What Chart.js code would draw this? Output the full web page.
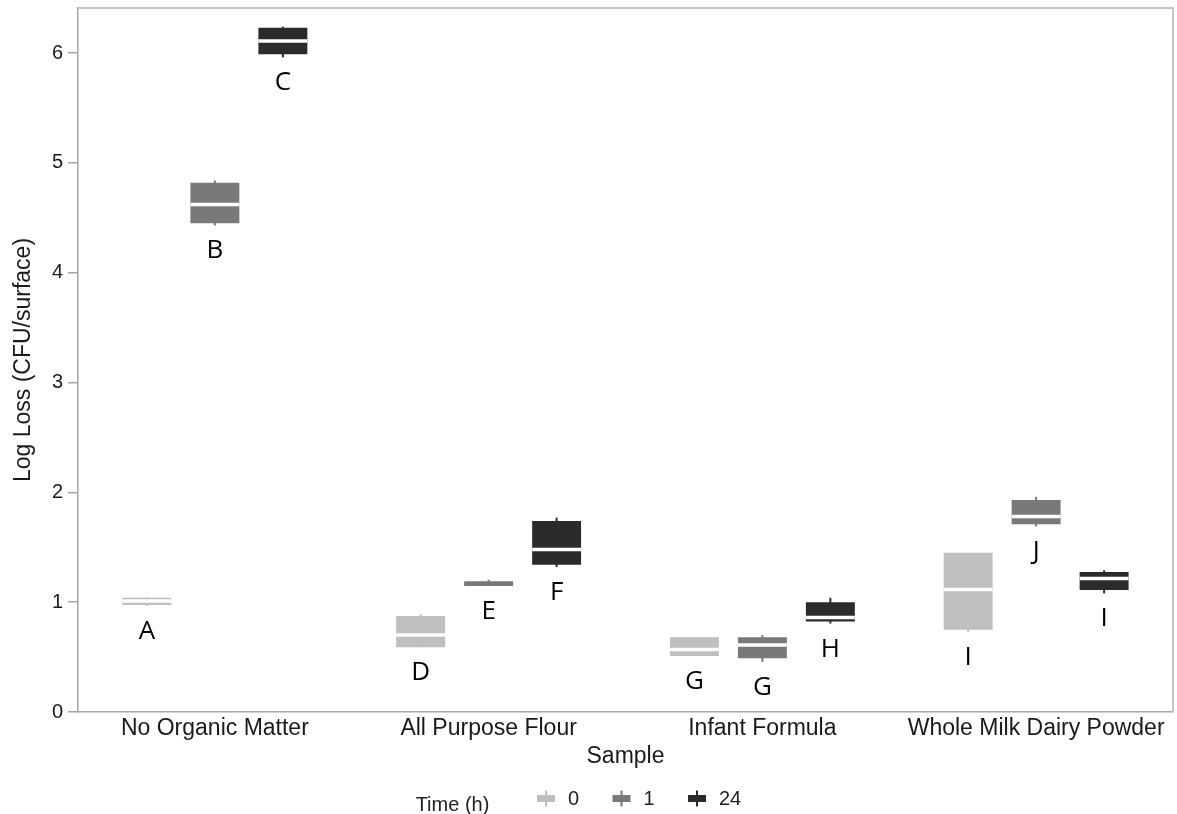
<!DOCTYPE html>
<html>
<head>
<meta charset="utf-8">
<title>Log Loss by Sample and Time</title>
<script src="https://cdn.jsdelivr.net/npm/chart.js@4.4.1/dist/chart.umd.min.js"></script>
<style>
  html, body { margin: 0; padding: 0; background: #ffffff; }
  #wrap { width: 1177px; height: 814px; position: relative; }
</style>
</head>
<body>
<div id="wrap"><canvas id="chart" width="1177" height="814"></canvas></div>
<script>
// Samples along the x axis
const categories = ['No Organic Matter', 'All Purpose Flour', 'Infant Formula', 'Whole Milk Dairy Powder'];
const timeLabels = ['0', '1', '24'];
const yTicks = [0, 1, 2, 3, 4, 5, 6];

// Box statistics per time point: whisker low, Q1, median, Q3, whisker high (log CFU/surface)
const low0  = [0.965, 0.59, 0.51, 0.73];
const q1_0  = [0.975, 0.59, 0.51, 0.75];
const med0  = [1.01, 0.70, 0.57, 1.115];
const q3_0  = [1.04, 0.874, 0.68, 1.45];
const high0 = [1.045, 0.89, 0.68, 1.45];
const letters0 = ['A', 'D', 'G', 'I'];

const low1  = [4.43, 1.15, 0.455, 1.69];
const q1_1  = [4.45, 1.147, 0.49, 1.71];
const med1  = [4.62, null, 0.61, 1.78];
const q3_1  = [4.82, 1.19, 0.68, 1.93];
const high1 = [4.84, 1.205, 0.70, 1.96];
const letters1 = ['B', 'E', 'G', 'J'];

const low24  = [5.96, 1.32, 0.805, 1.08];
const q1_24  = [5.99, 1.34, 0.824, 1.11];
const med24  = [6.11, 1.48, 0.86, 1.215];
const q3_24  = [6.23, 1.74, 1.00, 1.275];
const high24 = [6.24, 1.77, 1.04, 1.29];
const letters24 = ['C', 'F', 'H', 'I'];

const seriesColors = ['#bfbfbf', '#797979', '#2b2b2b'];

const stats = [
  { low: low0,  q1: q1_0,  med: med0,  q3: q3_0,  high: high0,  letters: letters0 },
  { low: low1,  q1: q1_1,  med: med1,  q3: q3_1,  high: high1,  letters: letters1 },
  { low: low24, q1: q1_24, med: med24, q3: q3_24, high: high24, letters: letters24 }
];

const datasets = stats.map((s, d) => ({
  label: timeLabels[d],
  data: s.q1.map((v, i) => [v, s.q3[i]]),
  backgroundColor: seriesColors[d],
  borderWidth: 0,
  borderSkipped: false,
  categoryPercentage: 0.745,
  barPercentage: 0.72
}));

const sansFamily = '"Liberation Sans", Arial, sans-serif';

// Whiskers behind the boxes, medians, group letters and the legend on top
const boxPlotParts = {
  id: 'boxPlotParts',
  beforeDatasetsDraw(chart) {
    const y = chart.scales.y;
    const ctx = chart.ctx;
    ctx.save();
    stats.forEach((s, d) => {
      const meta = chart.getDatasetMeta(d);
      meta.data.forEach((bar, i) => {
        ctx.strokeStyle = seriesColors[d];
        ctx.lineWidth = 2;
        ctx.beginPath();
        ctx.moveTo(bar.x, y.getPixelForValue(s.low[i]));
        ctx.lineTo(bar.x, y.getPixelForValue(s.high[i]));
        ctx.stroke();
      });
    });
    ctx.restore();
  },
  afterDatasetsDraw(chart) {
    const y = chart.scales.y;
    const ctx = chart.ctx;
    ctx.save();
    stats.forEach((s, d) => {
      const meta = chart.getDatasetMeta(d);
      meta.data.forEach((bar, i) => {
        const half = bar.width / 2;
        if (s.med[i] !== null) {
          const py = y.getPixelForValue(s.med[i]);
          ctx.strokeStyle = '#ffffff';
          ctx.lineWidth = 3.5;
          ctx.beginPath();
          ctx.moveTo(bar.x - half, py);
          ctx.lineTo(bar.x + half, py);
          ctx.stroke();
        }
        ctx.fillStyle = '#000000';
        ctx.font = '26px "Open Sans"';
        ctx.textAlign = 'center';
        ctx.textBaseline = 'alphabetic';
        ctx.fillText(s.letters[i], bar.x, y.getPixelForValue(s.low[i]) + 33);
      });
    });
    ctx.restore();
  },
  afterDraw(chart) {
    const a = chart.chartArea;
    const ctx = chart.ctx;
    ctx.save();
    // frame around the plotting area (top and right edges)
    ctx.strokeStyle = '#c4c4c4';
    ctx.lineWidth = 2;
    ctx.beginPath();
    ctx.moveTo(a.left, a.top);
    ctx.lineTo(a.right, a.top);
    ctx.lineTo(a.right, a.bottom);
    ctx.stroke();

    // legend
    const cx = (a.left + a.right) / 2;
    ctx.fillStyle = '#222222';
    ctx.font = '20px ' + sansFamily;
    ctx.textAlign = 'center';
    ctx.textBaseline = 'alphabetic';
    ctx.fillText('Time (h)', cx - 173, 811);
    const markerOffsets = [-79.5, -4, 71.5];
    const markerY = 798.5;
    timeLabels.forEach((t, d) => {
      const mx = cx + markerOffsets[d];
      ctx.fillStyle = seriesColors[d];
      ctx.fillRect(mx - 9, markerY - 3.5, 18, 7);
      ctx.strokeStyle = seriesColors[d];
      ctx.lineWidth = 2;
      ctx.beginPath();
      ctx.moveTo(mx, markerY - 8);
      ctx.lineTo(mx, markerY + 8);
      ctx.stroke();
      ctx.fillStyle = '#222222';
      ctx.textAlign = 'left';
      ctx.fillText(t, mx + 22, 805);
    });
    ctx.restore();
  }
};

new Chart(document.getElementById('chart'), {
  type: 'bar',
  data: { labels: categories, datasets: datasets },
  options: {
    responsive: false,
    animation: false,
    layout: { padding: { top: 8, right: 4, left: 0, bottom: 0 } },
    plugins: {
      legend: { display: false },
      tooltip: { enabled: false }
    },
    scales: {
      x: {
        grid: { display: false, drawTicks: false },
        border: { display: true, color: '#a6a6a6', width: 1.5 },
        ticks: {
          color: '#1a1a1a',
          padding: 3,
          maxRotation: 0,
          font: { family: sansFamily, size: 23 }
        },
        title: {
          display: true,
          text: 'Sample',
          color: '#1a1a1a',
          padding: { top: 0, bottom: 44 },
          font: { family: sansFamily, size: 23 }
        },
        afterFit(scale) {
          scale.height = 102;
          scale.paddingLeft = 0;
          scale.paddingRight = 0;
        }
      },
      y: {
        min: 0,
        max: 6.41,
        afterBuildTicks(scale) { scale.ticks = yTicks.map(v => ({ value: v })); },
        grid: { drawOnChartArea: false, drawTicks: true, tickLength: 10, color: '#a6a6a6', lineWidth: 1.5 },
        border: { display: true, color: '#a6a6a6', width: 1.5 },
        ticks: {
          color: '#1a1a1a',
          padding: 5,
          font: { family: sansFamily, size: 20 }
        },
        title: {
          display: true,
          text: 'Log Loss (CFU/surface)',
          color: '#1a1a1a',
          padding: { top: 10, bottom: 0 },
          font: { family: sansFamily, size: 23 }
        },
        afterFit(scale) {
          scale.width = 78;
          scale.paddingTop = 0;
          scale.paddingBottom = 0;
        }
      }
    }
  },
  plugins: [boxPlotParts]
});
</script>
</body>
</html>
